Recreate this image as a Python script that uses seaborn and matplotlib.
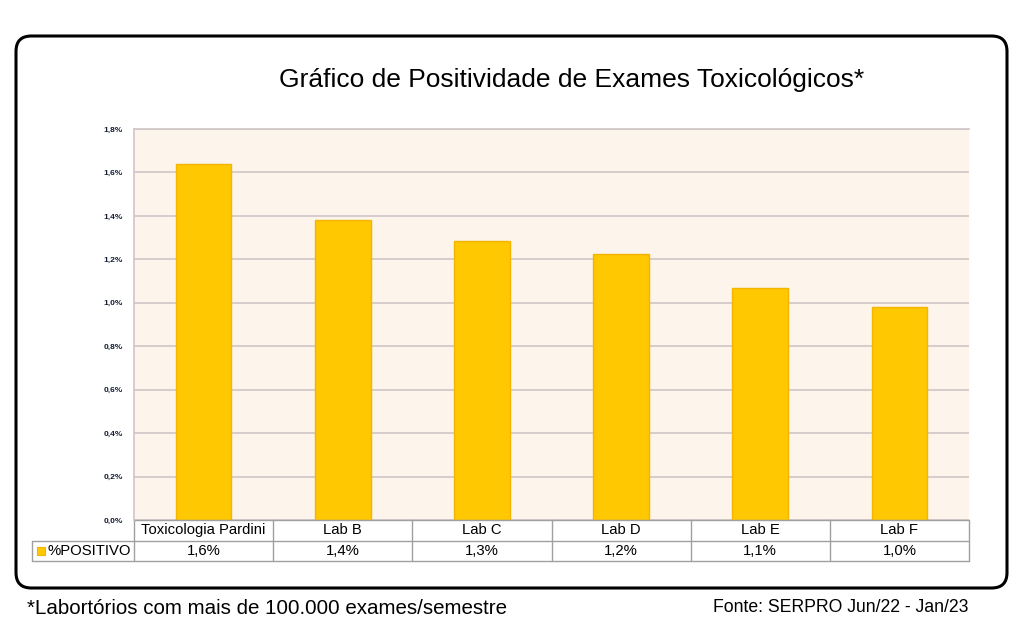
import matplotlib
matplotlib.use("Agg")
import matplotlib.pyplot as plt
import seaborn as sns
import pandas as pd
from matplotlib.patches import FancyBboxPatch, Rectangle
from matplotlib.ticker import FuncFormatter

# Data
labs = ["Toxicologia Pardini", "Lab B", "Lab C", "Lab D", "Lab E", "Lab F"]
positivity = [1.64, 1.38, 1.285, 1.225, 1.07, 0.98]
table_labels = ["1,6%", "1,4%", "1,3%", "1,2%", "1,1%", "1,0%"]
series_name = "%POSITIVO"

sns.set_theme(style="white")
plt.rcParams["font.family"] = ["Liberation Sans", "DejaVu Sans"]

bar_color = "#FFC800"
edge_color = "#F4B400"
grid_color = "#CFC6C6"
table_line = "#A0A0A0"

df = pd.DataFrame({"lab": labs, "pct": positivity})

fig = plt.figure(figsize=(10.24, 6.4), dpi=100)
fig.patch.set_facecolor("white")

# Rounded frame around the whole chart
frame = FancyBboxPatch((16 / 1024, 1 - 588 / 640), (1007 - 16) / 1024, (588 - 36) / 640,
                       boxstyle="round,pad=0,rounding_size=0.015",
                       transform=fig.transFigure, facecolor="none",
                       edgecolor="black", linewidth=2.2, mutation_aspect=1.6)
fig.patches.append(frame)

ax = fig.add_axes([134 / 1024, 120 / 640, 835 / 1024, 391 / 640])
ax.set_facecolor("#FDF4EC")

sns.barplot(data=df, x="lab", y="pct", ax=ax, color=bar_color, width=0.4,
            edgecolor=edge_color, linewidth=1, saturation=1)

ax.set_xlim(-0.5, len(labs) - 0.5)
ax.set_ylim(0, 1.8)
ax.set_yticks([0, 0.2, 0.4, 0.6, 0.8, 1.0, 1.2, 1.4, 1.6, 1.8])
ax.yaxis.set_major_formatter(FuncFormatter(lambda v, p: f"{v:.1f}%".replace(".", ",")))
ax.tick_params(axis="y", labelsize=6, colors="#141C33", length=0, pad=8)
for t in ax.get_yticklabels():
    t.set_fontweight("bold")
ax.set_xticks([])
ax.set_xlabel("")
ax.set_ylabel("")
ax.grid(axis="y", color=grid_color, linewidth=1.2)
ax.set_axisbelow(True)
for side in ["left", "top"]:
    ax.spines[side].set_color(grid_color)
    ax.spines[side].set_linewidth(1.2)
ax.spines["right"].set_visible(False)
ax.spines["bottom"].set_visible(False)

# Data table under the plot, drawn in (x data, y axes) coordinates
trans = ax.get_xaxis_transform()
n = len(labs)
row_h = 20.5 / 391
left = -0.5 - (134 - 32) / (835 / n)
y1, y2 = -row_h, -2 * row_h
kw = dict(transform=trans, clip_on=False, color=table_line, linewidth=1)
ax.plot([-0.5, n - 0.5], [0, 0], **kw)
ax.plot([left, n - 0.5], [y1, y1], **kw)
ax.plot([left, n - 0.5], [y2, y2], **kw)
ax.plot([left, left], [y1, y2], **kw)
for i in range(n + 1):
    ax.plot([i - 0.5, i - 0.5], [0, y2], **kw)
for i, (lab, val) in enumerate(zip(labs, table_labels)):
    ax.text(i, -row_h / 2, lab, transform=trans, ha="center", va="center",
            fontsize=10.7, color="black")
    ax.text(i, -1.5 * row_h, val, transform=trans, ha="center", va="center",
            fontsize=10.7, color="black")
ax.text(-0.5 - 3 / (835 / n), -1.5 * row_h, series_name, transform=trans,
        ha="right", va="center", fontsize=10.7, color="black")
ax.add_patch(Rectangle((left + 5 / (835 / n), -1.5 * row_h - 4 / 391),
                       8 / (835 / n), 8 / 391, transform=trans, clip_on=False,
                       facecolor=bar_color, edgecolor=edge_color, linewidth=0.8))

fig.text(572 / 1024, 1 - 80 / 640, "Gráfico de Positividade de Exames Toxicológicos*",
         ha="center", va="center", fontsize=19, color="black")
fig.text(27 / 1024, 1 - 608 / 640, "*Labortórios com mais de 100.000 exames/semestre",
         ha="left", va="center", fontsize=14.8, color="black")
fig.text(968 / 1024, 1 - 607 / 640, "Fonte: SERPRO Jun/22 - Jan/23",
         ha="right", va="center", fontsize=12.7, color="black")

fig.savefig("out.png", dpi=100)
plt.close(fig)
